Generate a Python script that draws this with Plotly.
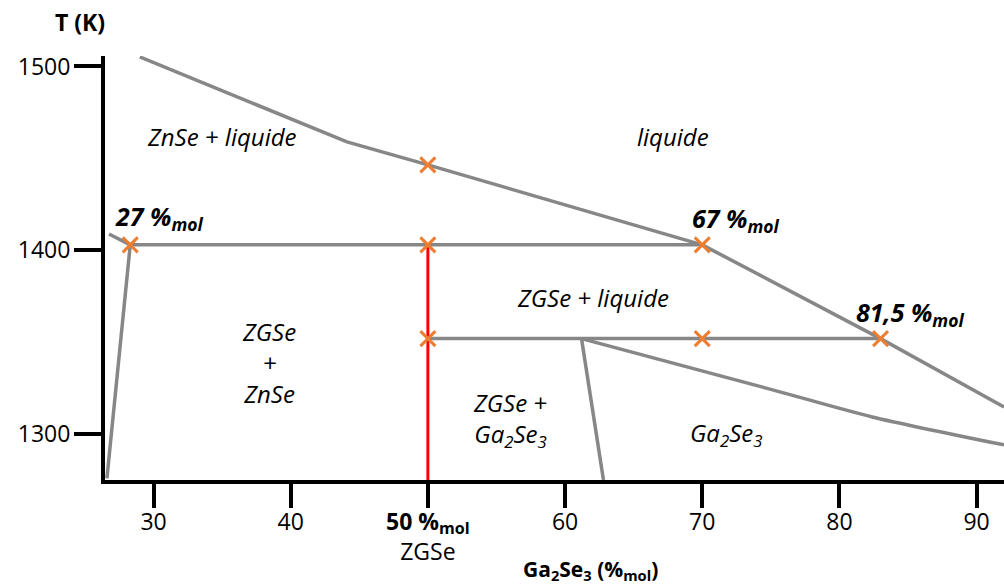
import plotly.graph_objects as go

# ---- data (Ga2Se3 %mol, T in K) ----
liq_upper_x = [29.0, 44.1, 50.0, 70.0]
liq_upper_y = [1505.2, 1459.0, 1446.5, 1403.0]

liq_right_x = [70.0, 83.0, 92.0]
liq_right_y = [1403.0, 1352.0, 1314.8]

eut1_x = [28.3, 70.0]
eut1_y = [1403.0, 1403.0]

left_x = [26.75, 28.3, 26.6]
left_y = [1408.9, 1403.0, 1276.0]

zgse_x = [50.0, 50.0]
zgse_y = [1275.1, 1403.0]

eut2_x = [50.0, 83.0]
eut2_y = [1352.0, 1352.0]

solvus_x = [61.2, 62.8]
solvus_y = [1352.0, 1275.1]

lower_x = [61.2, 75.2, 82.4, 92.0]
lower_y = [1352.0, 1324.0, 1309.4, 1294.2]

cross_x = [28.3, 50.0, 50.0, 70.0, 50.0, 70.0, 83.0]
cross_y = [1403.0, 1446.5, 1403.0, 1403.0, 1352.0, 1352.0, 1352.0]

x_ticks = [30, 40, 50, 60, 70, 80, 90]
x_ticktext = ["30", "40", "<b>50 %<sub>mol</sub></b><br>ZGSe", "60", "70", "80", "90"]
y_ticks = [1300, 1400, 1500]
y_ticktext = ["1300", "1400", "1500"]

FONT = "Open Sans"
GRAY = "#878787"
ORANGE = "#ED7D31"

fig = go.Figure()

for xs, ys in [(liq_upper_x, liq_upper_y), (liq_right_x, liq_right_y), (eut1_x, eut1_y),
               (left_x, left_y), (eut2_x, eut2_y), (solvus_x, solvus_y)]:
    fig.add_trace(go.Scatter(x=xs, y=ys, mode="lines",
                             line=dict(color=GRAY, width=3.5), hoverinfo="skip", showlegend=False))
fig.add_trace(go.Scatter(x=lower_x, y=lower_y, mode="lines",
                         line=dict(color=GRAY, width=3.5, shape="spline", smoothing=0.8),
                         hoverinfo="skip", showlegend=False))

fig.add_trace(go.Scatter(x=zgse_x, y=zgse_y, mode="lines",
                         line=dict(color="#FF0000", width=3), showlegend=False))

fig.add_trace(go.Scatter(x=cross_x, y=cross_y, mode="markers",
                         marker=dict(symbol="x-thin", size=15, line=dict(color=ORANGE, width=3)),
                         showlegend=False))

ital = dict(family=FONT, size=24, color="black")
labels = [
    (35.0, 1461.7, "<i>ZnSe + liquide</i>"),
    (67.9, 1461.7, "<i>liquide</i>"),
    (62.0, 1374.1, "<i>ZGSe + liquide</i>"),
    (38.4, 1338.8, "<i>ZGSe</i><br><i>+</i><br><i>ZnSe</i>"),
    (56.0, 1307.8, "<i>ZGSe +</i><br><i>Ga<sub>2</sub>Se<sub>3</sub></i>"),
    (71.7, 1300.1, "<i>Ga<sub>2</sub>Se<sub>3</sub></i>"),
]
for x, y, t in labels:
    fig.add_annotation(x=x, y=y, text=t, showarrow=False, font=ital,
                       xanchor="center", yanchor="middle")

bold_labels = [
    (27.04, 1418.0, "<b><i>27 %<sub>mol</sub></i></b>"),
    (69.1, 1417.0, "<b><i>67 %<sub>mol</sub></i></b>"),
    (81.1, 1365.5, "<b><i>81,5 %<sub>mol</sub></i></b>"),
]
for x, y, t in bold_labels:
    fig.add_annotation(x=x, y=y, text=t, showarrow=False,
                       font=dict(family=FONT, size=25, color="black"),
                       xanchor="left", yanchor="middle")

fig.add_annotation(xref="paper", yref="paper", x=-0.028, y=1.08, text="<b>T (K)</b>",
                   showarrow=False, font=dict(family=FONT, size=23, color="black"),
                   xanchor="center", yanchor="middle")
fig.add_annotation(xref="paper", yref="paper", x=0.5395, y=-0.212,
                   text="<b>Ga<sub>2</sub>Se<sub>3</sub> (%<sub>mol</sub>)</b>",
                   showarrow=False, font=dict(family=FONT, size=21, color="black"),
                   xanchor="center", yanchor="middle")

axis_common = dict(showgrid=False, zeroline=False, showline=True, linecolor="black",
                   linewidth=4, ticks="outside", tickwidth=4, tickcolor="black",
                   tickfont=dict(family=FONT, size=23, color="black"))

fig.update_xaxes(range=[26.46, 92.0], tickvals=x_ticks, ticktext=x_ticktext,
                 ticklen=24, ticklabelstandoff=-6, **axis_common)
fig.update_yaxes(range=[1275.1, 1505.7], tickvals=y_ticks, ticktext=y_ticktext,
                 ticklen=27, ticklabelstandoff=-1, **axis_common)

fig.update_layout(width=1004, height=587, margin=dict(l=105, r=0, t=56, b=107),
                  plot_bgcolor="white", paper_bgcolor="white",
                  font=dict(family=FONT), showlegend=False)

fig.write_html("out.html", config={"displayModeBar": False},
               post_script="document.body.style.margin='0px';")
